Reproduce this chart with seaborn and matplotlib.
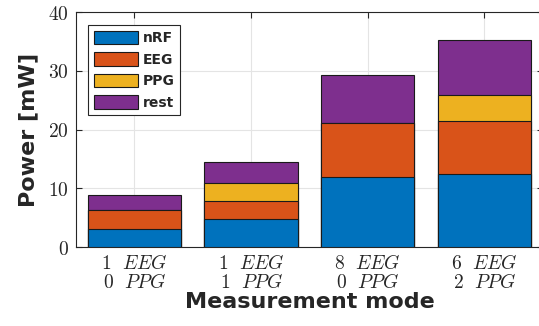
import numpy as np
import pandas as pd
import seaborn as sns
import matplotlib
matplotlib.use("Agg")
import matplotlib.pyplot as plt
from matplotlib.ticker import FuncFormatter
from matplotlib.patches import Patch

# данные
modes = [r"$1\ \ EEG$" + "\n" + r"$0\ \ PPG$",
         r"$1\ \ EEG$" + "\n" + r"$1\ \ PPG$",
         r"$8\ \ EEG$" + "\n" + r"$0\ \ PPG$",
         r"$6\ \ EEG$" + "\n" + r"$2\ \ PPG$"]
components = ["nRF", "EEG", "PPG", "rest"]
nrf = [3.1, 4.7, 12.0, 12.4]
eeg = [3.2, 3.2, 9.2, 9.1]
ppg = [0.0, 3.05, 0.0, 4.4]
rest = [2.6, 3.55, 8.1, 9.4]
colors = ["#0072BD", "#D95319", "#EDB120", "#7E2F8E"]

data = pd.DataFrame({"mode": modes, "nRF": nrf, "EEG": eeg, "PPG": ppg, "rest": rest})
cum = data[components].cumsum(axis=1)
cum["mode"] = data["mode"]

sns.set_theme(style="white")
plt.rcParams["mathtext.fontset"] = "cm"

fig = plt.figure(figsize=(5.39, 3.26), dpi=100)
ax = fig.add_axes([0.141, 0.242, 0.866, 0.721])

# стековые столбики: рисуем накопленные суммы сверху вниз
for comp, col in zip(components[::-1], colors[::-1]):
    sns.barplot(data=cum, x="mode", y=comp, color=col, saturation=1,
                width=0.8, edgecolor="#1a1a1a", linewidth=0.8, ax=ax, zorder=3)

ax.set_xlim(-0.5, 3.5)
ax.set_ylim(0, 40)
ax.set_yticks([0, 10, 20, 30, 40])
ax.yaxis.set_major_formatter(FuncFormatter(lambda v, p: f"${v:g}$"))
ax.grid(True, color="#e4e4e4", linewidth=0.8, zorder=0)
ax.set_axisbelow(True)
ax.tick_params(direction="in", length=4, width=0.8, color="#262626",
               top=True, right=True, bottom=True, left=True,
               labelsize=14, labelcolor="#262626", pad=5)
for lbl in ax.get_xticklabels():
    lbl.set_linespacing(1.0)
for s in ax.spines.values():
    s.set_color("#262626")
    s.set_linewidth(0.8)

ax.set_xlabel("Measurement mode", family="DejaVu Sans", fontweight="bold",
              fontsize=16, color="#262626", labelpad=0)
ax.set_ylabel("Power [mW]", family="DejaVu Sans", fontweight="bold",
              fontsize=16, color="#262626", labelpad=7)

handles = [Patch(facecolor=c, edgecolor="#1a1a1a", linewidth=0.8) for c in colors]
leg = ax.legend(handles, components, loc="upper left", bbox_to_anchor=(0.026, 0.945),
                prop={"family": "DejaVu Sans", "weight": "bold", "size": 10},
                handlelength=3.2, handleheight=1.15, handletextpad=0.35,
                labelspacing=0.5, borderpad=0.4, borderaxespad=0, fancybox=False,
                edgecolor="#262626", framealpha=1)
leg.get_frame().set_linewidth(0.8)

fig.savefig("out.png", dpi=100)
